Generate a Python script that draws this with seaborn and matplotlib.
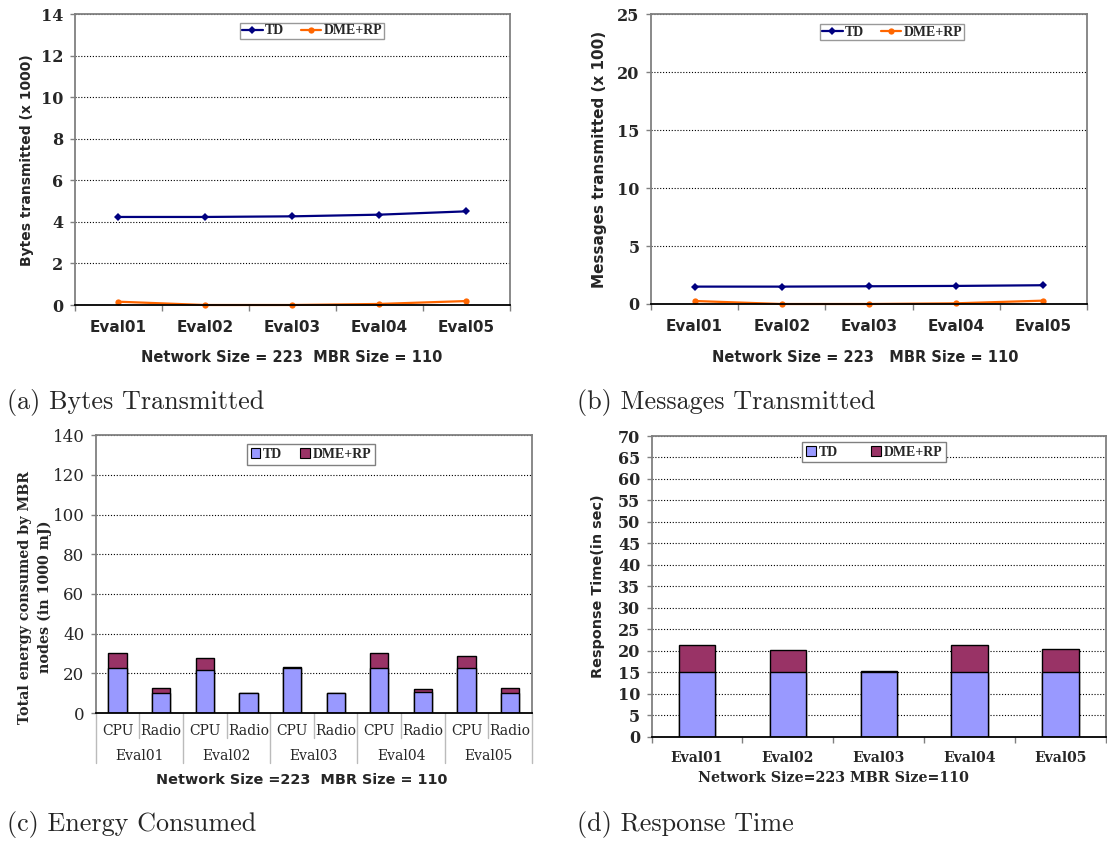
import numpy as np
import pandas as pd
import matplotlib
matplotlib.use("Agg")
import matplotlib.pyplot as plt
import matplotlib.transforms as mtransforms
from matplotlib.lines import Line2D
from matplotlib.patches import Patch
import seaborn as sns

# ---------------- data ----------------
runs = ["Eval01", "Eval02", "Eval03", "Eval04", "Eval05"]
series = ["TD", "DME+RP"]

bytes_td = [4.24, 4.24, 4.27, 4.35, 4.51]
bytes_dme = [0.16, 0.00, 0.00, 0.05, 0.19]

msgs_td = [1.50, 1.50, 1.53, 1.56, 1.62]
msgs_dme = [0.26, 0.00, 0.00, 0.06, 0.29]

energy_parts = ["CPU", "Radio"]
energy_td = [22.5, 10.1, 21.5, 10.2, 22.5, 10.2, 22.5, 10.6, 22.5, 10.1]
energy_dme = [7.8, 2.5, 6.2, 0.1, 0.7, 0.1, 7.6, 1.3, 6.2, 2.5]

resp_td = [15.0, 15.0, 15.0, 15.0, 15.0]
resp_dme = [6.4, 5.2, 0.25, 6.4, 5.35]

# ---------------- style ----------------
LINE_COLORS = {"TD": "#000080", "DME+RP": "#FF6600"}
LINE_MARKERS = {"TD": "D", "DME+RP": "o"}
BAR_COLORS = {"TD": "#9999FF", "DME+RP": "#993366"}
FRAME_GRAY = "#808080"

sns.set_theme(style="white")
plt.rcParams["font.family"] = ["DejaVu Sans"]

W, H = 1107, 843
fig = plt.figure(figsize=(W / 100, H / 100), dpi=100)


def rect(l, t, r, b):
    return [l / W, 1 - b / H, (r - l) / W, (b - t) / H]


def fx(x):
    return x / W


def fy(y):
    return 1 - y / H


SANS_B = dict(family="DejaVu Sans", weight="bold")
SERIF_B = dict(family="DejaVu Serif", weight="bold")
SERIF = dict(family="DejaVu Serif")
LEG_FONT = dict(family="Liberation Serif", weight="bold", size=10)


def frame(ax, ymax, ystep, tickfont, tsize):
    for s in ["left", "top", "right"]:
        ax.spines[s].set_color(FRAME_GRAY)
        ax.spines[s].set_linewidth(1.3)
    ax.spines["bottom"].set_color("black")
    ax.spines["bottom"].set_linewidth(1.3)
    ax.set_ylim(0, ymax)
    ax.set_yticks(np.arange(0, ymax + ystep / 2, ystep))
    ax.tick_params(axis="y", direction="out", length=3.6, width=1,
                   color=FRAME_GRAY, pad=4.5, left=True)
    for lab in ax.get_yticklabels():
        lab.set_fontfamily(tickfont["family"])
        lab.set_fontweight(tickfont.get("weight", "normal"))
        lab.set_fontsize(tsize)
    ax.yaxis.grid(True, linestyle=(0, (1, 1.6)), color="black", linewidth=0.8)
    ax.xaxis.grid(False)
    ax.set_axisbelow(True)
    ax.set_xlabel("")
    ax.set_ylabel("")


def category_ticks(ax, n, font, size, pad):
    ax.set_xlim(-0.5, n - 0.5)
    ax.set_xticks(range(n))
    ax.set_xticks(np.arange(-0.5, n, 1.0), minor=True)
    ax.tick_params(axis="x", which="major", length=0, pad=pad, bottom=True)
    ax.tick_params(axis="x", which="minor", length=4.5, width=1,
                   color=FRAME_GRAY, direction="out", bottom=True)
    for lab in ax.get_xticklabels():
        lab.set_fontfamily(font["family"])
        lab.set_fontweight(font.get("weight", "normal"))
        lab.set_fontsize(size)


def line_panel(ax, td, dme, ymax, ystep, leg_xy):
    df = pd.DataFrame({
        "run": runs * 2,
        "value": list(td) + list(dme),
        "series": ["TD"] * len(runs) + ["DME+RP"] * len(runs),
    })
    sns.lineplot(data=df, x="run", y="value", hue="series", style="series",
                 palette=LINE_COLORS, markers=LINE_MARKERS, dashes=False,
                 sort=False, ax=ax, legend=False, linewidth=1.6,
                 markersize=4.5, markeredgewidth=0, clip_on=False)
    frame(ax, ymax, ystep, SERIF_B, 11.5)
    category_ticks(ax, len(runs), SANS_B, 11, 11)
    handles = [Line2D([], [], color=LINE_COLORS[s], marker=LINE_MARKERS[s],
                      markersize=4.5, markeredgewidth=0, linewidth=1.6)
               for s in series]
    leg = ax.legend(handles, series, loc="center",
                    bbox_to_anchor=(fx(leg_xy[0]), fy(leg_xy[1])),
                    bbox_transform=fig.transFigure, ncol=2, frameon=True,
                    fancybox=False, edgecolor=FRAME_GRAY, prop=LEG_FONT,
                    handlelength=1.5, handletextpad=0.15, columnspacing=1.2,
                    borderpad=0.12, borderaxespad=0)
    leg.get_frame().set_linewidth(1.0)


def bar_legend(ax, leg_xy, colsp):
    handles = [Patch(facecolor=BAR_COLORS[s], edgecolor="black", linewidth=0.8)
               for s in series]
    leg = ax.legend(handles, series, loc="center",
                    bbox_to_anchor=(fx(leg_xy[0]), fy(leg_xy[1])),
                    bbox_transform=fig.transFigure, ncol=2, frameon=True,
                    fancybox=False, edgecolor=FRAME_GRAY, prop=LEG_FONT,
                    handlelength=0.7, handleheight=0.7, handletextpad=0.2,
                    columnspacing=colsp, borderpad=0.28, borderaxespad=0,
                    framealpha=1)
    leg.get_frame().set_linewidth(1.0)


def stacked_bars(ax, labels, td, dme, width):
    total = [a + b for a, b in zip(td, dme)]
    df = pd.DataFrame({"cat": labels, "td": td, "total": total})
    sns.barplot(data=df, x="cat", y="total", order=labels, color=BAR_COLORS["DME+RP"],
                saturation=1, width=width, edgecolor="black", linewidth=1.0, ax=ax)
    sns.barplot(data=df, x="cat", y="td", order=labels, color=BAR_COLORS["TD"],
                saturation=1, width=width, edgecolor="black", linewidth=1.0, ax=ax)


# ---------------- (a) bytes ----------------
ax_a = fig.add_axes(rect(74.5, 14.3, 509.5, 305))
line_panel(ax_a, bytes_td, bytes_dme, 14, 2, (312, 31))
fig.text(fx(27), fy(160), "Bytes transmitted (x 1000)", rotation=90,
         ha="center", va="center", size=10, **SANS_B)
fig.text(fx(292), fy(358), "Network Size = 223  MBR Size = 110",
         ha="center", va="center", size=10.5, **SANS_B)

# ---------------- (b) messages ----------------
ax_b = fig.add_axes(rect(651, 14.3, 1087, 304))
line_panel(ax_b, msgs_td, msgs_dme, 25, 5, (892, 32))
fig.text(fx(599.4), fy(159.5), "Messages transmitted (x 100)", rotation=90,
         ha="center", va="center", size=11, **SANS_B)
fig.text(fx(865.6), fy(358), "Network Size = 223   MBR Size = 110",
         ha="center", va="center", size=10.5, **SANS_B)

# ---------------- (c) energy ----------------
ax_c = fig.add_axes(rect(95.7, 435.3, 532, 713))
energy_labels = [f"{r} {p}" for r in runs for p in energy_parts]
stacked_bars(ax_c, energy_labels, energy_td, energy_dme, 0.42)
frame(ax_c, 140, 20, SERIF, 12)
ax_c.set_xlim(-0.5, len(energy_labels) - 0.5)
ax_c.set_xticks([])
ax_c.tick_params(axis="x", length=0)
bar_legend(ax_c, (311, 454.5), 1.3)

# two-level category axis
trans_c = mtransforms.blended_transform_factory(ax_c.transData, ax_c.transAxes)
ax_h = 713 - 435.3
short_y = -(738 - 713) / ax_h
long_y = -(763 - 713) / ax_h
for i, lab in enumerate(energy_labels):
    part = lab.split(" ")[1]
    ax_c.text(i, -(731 - 713) / ax_h, part, transform=trans_c, ha="center",
              va="center", size=10, **SERIF)
for k in range(len(energy_labels) + 1):
    x = k - 0.5
    y1 = long_y if k % 2 == 0 else short_y
    ax_c.add_line(Line2D([x, x], [0, y1], transform=trans_c, color="#BBBBBB",
                         linewidth=1.0, clip_on=False))
for j, r in enumerate(runs):
    ax_c.text(2 * j + 0.5, -(756 - 713) / ax_h, r, transform=trans_c,
              ha="center", va="center", size=10, **SERIF)
fig.text(fx(25), fy(597), "Total energy consumed by MBR", rotation=90,
         ha="center", va="center", size=10.3, **SERIF_B)
fig.text(fx(44.6), fy(597), "nodes (in 1000 mJ)", rotation=90,
         ha="center", va="center", size=10.3, **SERIF_B)
fig.text(fx(302), fy(780), "Network Size =223  MBR Size = 110",
         ha="center", va="center", size=10.4, **SANS_B)

# ---------------- (d) response time ----------------
ax_d = fig.add_axes(rect(651.5, 436, 1106, 736.7))
stacked_bars(ax_d, runs, resp_td, resp_dme, 0.40)
frame(ax_d, 70, 5, SERIF_B, 11.5)
category_ticks(ax_d, len(runs), SERIF_B, 10, 10)
bar_legend(ax_d, (874, 452), 2.4)
fig.text(fx(597.7), fy(586.5), "Response Time(in sec)", rotation=90,
         ha="center", va="center", size=10.4, **SANS_B)
fig.text(fx(833.6), fy(778), "Network Size=223 MBR Size=110",
         ha="center", va="center", size=10.3, **SERIF_B)

# ---------------- sub-captions ----------------
CAP = dict(family="cmr10", size=18.8)
fig.text(fx(7), fy(403), "(a) Bytes Transmitted", ha="left", va="center", **CAP)
fig.text(fx(577), fy(403), "(b) Messages Transmitted", ha="left", va="center", **CAP)
fig.text(fx(7), fy(825), "(c) Energy Consumed", ha="left", va="center", **CAP)
fig.text(fx(577), fy(825), "(d) Response Time", ha="left", va="center", **CAP)

fig.savefig("out.png", dpi=100, facecolor="white")
